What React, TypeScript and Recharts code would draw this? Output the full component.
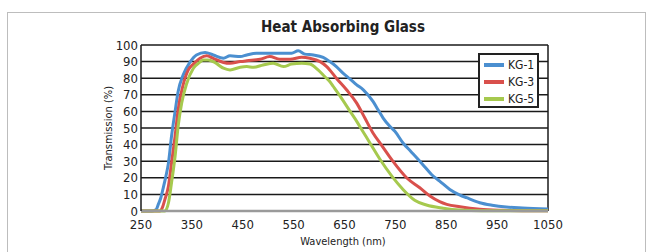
import React from "react";
import { LineChart, Line, XAxis, YAxis, CartesianGrid, ReferenceLine } from "recharts";

// KG-1
const wlKG1 = [250, 272, 280, 284, 289, 293, 299, 304, 310, 317, 323, 333, 346, 359, 376, 392, 412, 425, 445, 458, 477, 500, 523, 546, 559, 572, 589, 608, 621, 634, 647, 661, 674, 687, 706, 716, 726, 739, 749, 765, 780, 795, 808, 821, 837, 857, 877, 890, 916, 940, 968, 1000, 1050];
const tKG1 = [0, 0, 1, 4, 8, 13, 21, 29, 45, 60, 72, 82, 89.5, 94, 95.5, 94, 92, 93.5, 93, 94, 95, 95, 95, 95, 96.5, 94.5, 94, 92.5, 90, 87, 83, 79.5, 76, 73, 66, 61, 56, 51, 48, 41, 36, 31, 26.5, 22, 18, 13, 9.6, 8, 5, 3.5, 2.4, 1.8, 1.2];

// KG-3
const wlKG3 = [250, 287, 292, 297, 304, 310, 317, 323, 332, 343, 353, 366, 379, 392, 412, 425, 445, 458, 484, 503, 523, 543, 566, 582, 602, 615, 621, 634, 654, 674, 690, 706, 722, 745, 772, 798, 818, 837, 851, 877, 916, 960, 1000, 1050];
const tKG3 = [0, 0, 2, 7, 15, 29, 45, 61, 75, 85, 88.5, 92, 93.5, 92, 89.5, 89, 90, 90.5, 91.4, 93, 91.4, 91.4, 92.6, 92, 90, 87, 85, 80, 73, 65, 56, 47, 40, 30, 20, 14, 9, 5.6, 4, 2.5, 1, 0.4, 0.2, 0.2];

// KG-5
const wlKG5 = [250, 297, 304, 310, 317, 323, 330, 340, 353, 365, 372, 382, 395, 412, 425, 445, 458, 471, 490, 510, 530, 546, 566, 582, 598, 611, 621, 628, 644, 661, 674, 684, 700, 720, 743, 765, 788, 811, 844, 877, 920, 1050];
const tKG5 = [0, 0, 5, 17, 33, 51, 65, 77, 86, 89.5, 91, 91, 89.5, 86, 85, 86.6, 87, 86.6, 88, 89, 87, 88.5, 89, 88.5, 85, 81, 78, 75, 68, 60, 54, 49, 41, 31, 21, 13, 6.5, 3.6, 1.7, 0.6, 0.2, 0.2];

const xTicks = [250, 350, 450, 550, 650, 750, 850, 950, 1050];
const yTicks = [0, 10, 20, 30, 40, 50, 60, 70, 80, 90, 100];

const toRows = (wl: number[], t: number[]) => wl.map((w, i) => ({ wl: w, t: t[i] }));

const series = [
  { name: "KG-1", color: "#4b8fd0", data: toRows(wlKG1, tKG1) },
  { name: "KG-3", color: "#d9504c", data: toRows(wlKG3, tKG3) },
  { name: "KG-5", color: "#a6c94e", data: toRows(wlKG5, tKG5) },
];

const font = "'DejaVu Sans', sans-serif";

function LegendBox() {
  return (
    <div
      style={{
        position: "absolute",
        left: 478,
        top: 53,
        width: 57,
        height: 50,
        border: "2px solid #222",
        background: "#fff",
        paddingTop: 1,
        fontFamily: font,
        fontSize: 12,
        color: "#222",
      }}
    >
      {series.map((s) => (
        <div key={s.name} style={{ display: "flex", alignItems: "center", height: 17, whiteSpace: "nowrap" }}>
          <span style={{ display: "inline-block", width: 20, height: 4, background: s.color, marginLeft: 4, marginRight: 4 }} />
          <span>{s.name}</span>
        </div>
      ))}
    </div>
  );
}

export default function App() {
  return (
    <div style={{ position: "absolute", left: 0, top: 0, width: 650, height: 252, overflow: "hidden", background: "#fff" }}>
      <style>{`body{margin:0} #root *{font-stretch:condensed}`}</style>
      <div style={{ position: "absolute", left: 7, top: 12, width: 637, height: 280, border: "1px solid #bdbdbd" }} />
      <div
        style={{
          position: "absolute",
          left: 0,
          top: 18,
          width: 686,
          textAlign: "center",
          fontFamily: font,
          fontWeight: "bold",
          fontSize: 15,
          color: "#222",
        }}
      >
        Heat Absorbing Glass
      </div>
      <div
        style={{
          position: "absolute",
          left: 108,
          top: 128,
          transform: "translate(-50%, -50%) rotate(-90deg)",
          fontFamily: font,
          fontSize: 11,
          color: "#222",
          whiteSpace: "nowrap",
        }}
      >
        Transmission (%)
      </div>
      <div
        style={{
          position: "absolute",
          left: 0,
          top: 235,
          width: 686,
          textAlign: "center",
          fontFamily: font,
          fontSize: 11,
          color: "#222",
        }}
      >
        Wavelength (nm)
      </div>
      <div style={{ position: "absolute", left: 0, top: 0 }}>
        <LineChart width={650} height={252} margin={{ top: 45, right: 102, bottom: 11, left: 111 }}>
          <CartesianGrid vertical={false} stroke="#1a1a1a" strokeWidth={1.5} />
          <XAxis
            dataKey="wl"
            type="number"
            domain={[250, 1050]}
            ticks={xTicks}
            interval={0}
            allowDuplicatedCategory={false}
            height={30}
            axisLine={{ stroke: "#9a9a9a", strokeWidth: 2.5 }}
            tickLine={false}
            tickSize={5}
            tickMargin={4}
            tick={{ fill: "#222", fontSize: 13, fontFamily: font }}
          />
          <YAxis
            type="number"
            domain={[0, 100]}
            ticks={yTicks}
            interval={0}
            width={30}
            axisLine={{ stroke: "#1a1a1a", strokeWidth: 1.5 }}
            tickLine={false}
            tickSize={2}
            tickMargin={1}
            tick={{ fill: "#222", fontSize: 13, fontFamily: font }}
          />
          <ReferenceLine x={1050} stroke="#1a1a1a" strokeWidth={1.5} />
          {series.map((s) => (
            <Line
              key={s.name}
              data={s.data}
              dataKey="t"
              name={s.name}
              type="monotone"
              stroke={s.color}
              strokeWidth={3}
              dot={false}
              isAnimationActive={false}
            />
          ))}
        </LineChart>
      </div>
      <LegendBox />
    </div>
  );
}
